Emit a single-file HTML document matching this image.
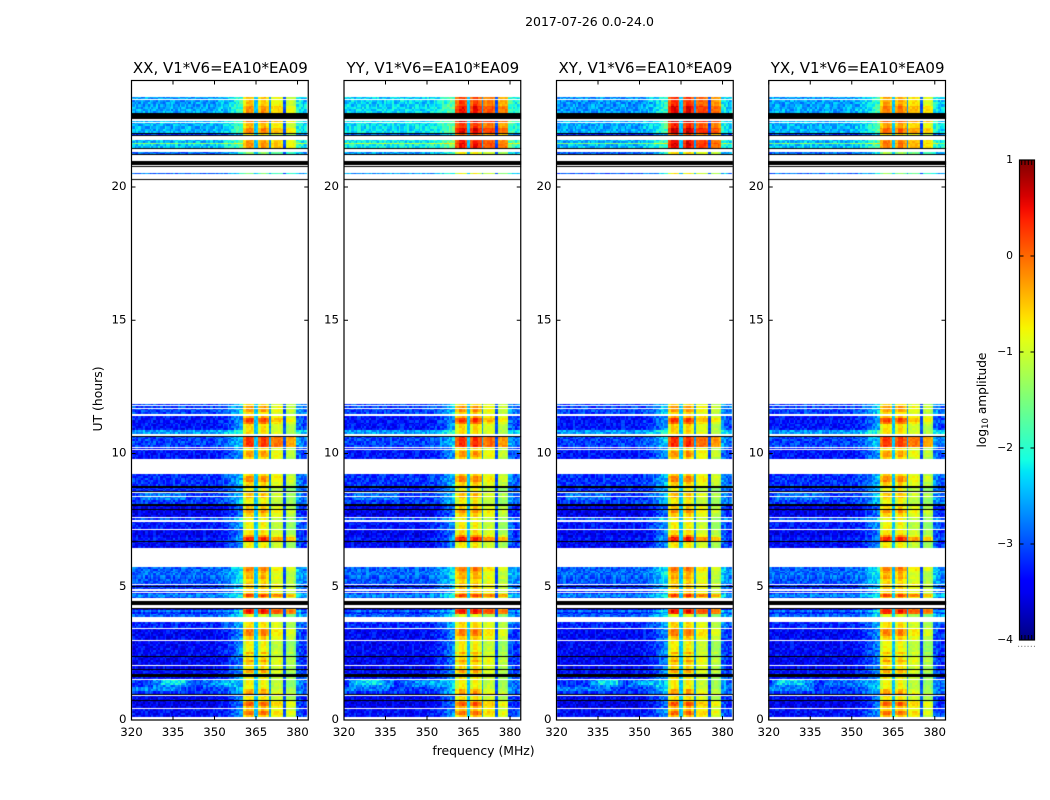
<!DOCTYPE html>
<html>
<head>
<meta charset="utf-8">
<title>2017-07-26 0.0-24.0</title>
<style>
html,body{margin:0;padding:0;background:#fff;}
#stage{position:relative;width:1050px;height:800px;overflow:hidden;background:#fff;}
canvas{position:absolute;display:block;}
svg{position:absolute;left:0;top:0;}
text{font-family:"DejaVu Sans","Liberation Sans",sans-serif;fill:#000;}
</style>
</head>
<body>
<div id="stage"></div>
<script>
// ---------- chart data ----------
const panelTitles = ["XX, V1*V6=EA10*EA09","YY, V1*V6=EA10*EA09","XY, V1*V6=EA10*EA09","YX, V1*V6=EA10*EA09"];
const freqTicks = [320,335,350,365,380];
const hourTicks = [0,5,10,15,20];
const colorTicks = [1,0,-1,-2,-3,-4];
const colorTickLabels = ["1","0","\u22121","\u22122","\u22123","\u22124"];

// Observed data bands: start hour, end hour, continuum log10 amplitude, signal offset
const bands = [
[0.13,0.45,-3.35,0.25],[0.45,0.72,-3.5,0.3],[0.72,0.96,-3.45,0.05],[0.96,1.0,-3.2,0.2],
[1.0,1.5,-3.1,-0.05],[1.5,1.62,-3.3,0],[1.62,1.95,-3.35,-0.05],[1.95,2.4,-3.45,0.1],
[2.4,3.0,-3.4,-0.05],[3.0,3.45,-3.4,0.2],[3.45,3.72,-3.2,0.1],[3.72,3.85,-3.2,0.1],
[3.85,3.98,-2.9,-0.2],[3.98,4.07,-3.2,1.1],[4.07,4.14,-2.8,1.2],[4.14,4.17,-3.6,1.0],
[4.59,4.63,-3.0,0.3],[4.63,4.74,-2.7,0.9],[4.74,4.98,-3.1,0.2],[4.98,5.08,-3.2,0.2],
[5.08,5.15,-3.0,0.3],[5.15,5.35,-2.95,0.1],[5.35,5.6,-2.85,0],[5.6,5.73,-2.9,0.2],
[6.44,6.69,-3.4,0],[6.69,6.86,-3.3,0.6],[6.86,7.16,-3.45,0.05],[7.16,7.42,-3.3,-0.05],
[7.52,7.62,-3.0,-0.1],[7.62,8.04,-3.5,0.15],[8.12,8.51,-3.1,-0.05],[8.54,8.71,-3.2,-0.1],
[8.79,9.23,-3.15,0.15],[9.8,10.22,-3.3,0.1],[10.23,10.63,-3.05,1.0],[10.73,10.88,-2.6,0.1],
[10.88,11.2,-3.3,0.1],[11.2,11.42,-3.3,0.35],[11.5,11.86,-3.05,0.1],
[20.47,20.51,-2.7,-0.9],[21.24,21.32,-2.7,-0.8],[21.42,21.47,-3.0,-0.3],[21.47,21.6,-2.25,0.35],
[21.6,21.66,-1.3,0.4],[21.66,21.76,-2.3,0.3],[21.93,22.04,-3.0,-0.1],[22.04,22.2,-2.35,0.45],
[22.2,22.4,-2.35,0.15],[22.4,22.53,-2.3,0.5],[22.78,23.05,-2.4,0.35],[23.05,23.38,-2.45,0.1]
];
// Thin no-data (white) lines: start hour, end hour
const whiteLines = [
[23.26,23.30],[22.47,22.50],[22.40,22.44],[11.77,11.81],[11.68,11.72],[10.20,10.24],[10.12,10.16],
[8.37,8.41],[7.58,7.62],[7.12,7.16],[5.06,5.10],[4.83,4.92],[4.76,4.79],[4.20,4.33],[3.68,3.71],
[3.73,3.85],[3.44,3.47],[2.99,3.02],[2.03,2.07],[1.50,1.53],[0.90,0.94],[0.40,0.44]
];
// Very low amplitude (black) lines: start hour, end hour
const blackLines = [
[22.55,22.78],[22.01,22.04],[21.93,21.96],[21.42,21.47],[21.20,21.23],[20.83,20.98],[20.77,20.80],[20.27,20.31],
[10.63,10.67],[8.71,8.79],[8.54,8.58],[8.04,8.12],[7.90,7.93],[6.69,6.72],[4.99,5.02],
[4.33,4.45],[4.17,4.20],[2.37,2.40],[1.90,1.93],[1.60,1.73],[0.95,0.98],[0.72,0.75]
];
// Strong band segments: start MHz, end MHz, then levels across the segment
const signalBlocks = [
[360.4,364.6,-0.9,-0.55,-0.55,-0.8],
[364.6,365.65,-2.4],
[365.65,369.6,-0.85,-0.52,-0.52,-0.8],
[369.6,370.4,-2.6],
[370.4,374.8,-1.0,-0.88,-0.88,-1.0],
[374.8,375.8,-3.0],
[375.8,379.7,-1.2,-1.1,-1.15,-1.3]
];
// Continuum lift per one-MHz channel near the strong band
const continuumLift = [
0,0,0,0,0,0,0,0,0,0,0,0,0,0,0,0,
0,0,0,0,0,0,0,0,0,0,0,0,0,0,0.03,0.05,
0.1,0.15,0.2,0.3,0.4,0.5,0.6,0.7,0.8,0,0,0,0,0,0,0,
0,0,0,0,0,0,0,0,0,0,0,0.45,0.45,0.3,0.2,0.3
];
// Extra continuum patches: panel, start hour, end hour, start MHz, end MHz, lift
const patches = [
[0,1.2,1.5,328,342,0.4],[0,1.25,1.45,331,340,0.5],[0,1.02,1.2,320,338,0.4],[0,1.2,1.5,346,358,0.3],[0,1.26,1.44,349,355,0.25],
[1,1.2,1.5,322,338,0.4],[1,1.25,1.45,324,334,0.45],[1,1.02,1.2,320,336,0.35],[1,1.2,1.5,342,358,0.3],[1,1.26,1.44,346,355,0.2],
[2,1.2,1.5,332,344,0.4],[2,1.25,1.45,335,342,0.5],[2,1.02,1.2,320,340,0.35],[2,1.2,1.5,346,358,0.3],[2,1.26,1.44,349,355,0.25],
[3,1.2,1.5,321,336,0.4],[3,1.25,1.45,323,333,0.4],[3,1.02,1.2,320,336,0.4],[3,1.2,1.5,340,358,0.25],
[0,8.2,8.5,323,340,0.35],[1,8.2,8.5,323,340,0.3],[2,8.2,8.5,323,340,0.3],[3,8.2,8.5,323,340,0.3]
];
// Rows where the strong band is brighter: start hour, end hour, lift
const signalStripes = [
[0.19,0.38,0.45],[0.49,0.68,0.5],[0.94,1.13,0.4],[1.76,1.91,0.45],[2.14,2.21,0.35],[2.44,2.55,0.4],
[3.15,3.45,0.4],[5.33,5.48,0.3],[5.52,5.74,0.4],[6.72,6.94,0.5],[7.80,7.95,0.35],[8.37,8.55,0.3],
[8.93,9.16,0.4],[9.87,10.09,0.35],[11.11,11.37,0.6],[11.56,11.78,0.35]
];
const panelTopBg = [-0.15,0.1,-0.2,-0.15];
const panelTopSig = [0,0.7,0.8,0.15];
const panelLowSig = [-0.15,-0.1,-0.1,-0.15];
// Speckle read as 0-9 texture around each cell level
const speckle = [
"38152907461328596041723","61940275183649027518396","27583164092758130946285",
"94016382751049362817504","15728490326175849203671","70463918250364917582043",
"42895137068241573906182","86130574926803145792360","39274061582917406382519",
"51608239741562038497126","08347521963074251869340","73915682403198627450158",
"26480197356824091735682"
];

// ---------- axes ----------
const panelLefts = [131.5,344,556.5,768.75];
const axisTop = 80.5, axisBottom = 720, axisWidth = 176.75;
function xScale(mhz, left){ return left + (mhz - 320) * 2.767; }
function yScale(hour){ return axisBottom - hour * 26.65; }
function colorY(level){ return 160 + (1 - level) * 96; }

function jet(level){
  const t = Math.max(0, Math.min(1, (level + 4) / 5));
  const ramp = (pts) => {
    for (let i = 1; i < pts.length; i++) {
      if (t <= pts[i][0]) {
        const a = pts[i-1], b = pts[i];
        return a[1] + (b[1]-a[1]) * (t-a[0]) / (b[0]-a[0]);
      }
    }
    return pts[pts.length-1][1];
  };
  const r = ramp([[0,0],[0.35,0],[0.66,1],[0.89,1],[1,0.5]]);
  const g = ramp([[0,0],[0.125,0],[0.375,1],[0.64,1],[0.91,0],[1,0]]);
  const b = ramp([[0,0.5],[0.11,1],[0.34,1],[0.65,0],[1,0]]);
  return "rgb(" + Math.round(r*255) + "," + Math.round(g*255) + "," + Math.round(b*255) + ")";
}
function signalAt(mhz){
  for (let i = 0; i < signalBlocks.length; i++) {
    const s = signalBlocks[i];
    if (mhz >= s[0] && mhz < s[1]) {
      const n = s.length - 2;
      const idx = Math.min(n - 1, Math.floor((mhz - s[0]) / (s[1] - s[0]) * n));
      return { level: s[2 + idx], index: i };
    }
  }
  return null;
}

const stage = document.getElementById("stage");
const NS = "http://www.w3.org/2000/svg";
const rowHours = 0.075;
const cellMHz = 0.6;

panelLefts.forEach(function(left, p){
  const cv = document.createElement("canvas");
  
  
  const cx0 = Math.floor(left), cy0 = Math.floor(axisTop);
  cv.width = 180; cv.height = 642;
  cv.style.left = cx0 + "px";
  cv.style.top = cy0 + "px";
  stage.appendChild(cv);
  const g = cv.getContext("2d");

  bands.forEach(function(b){
    for (let t = b[0]; t < b[1] - 0.001; t += rowHours) {
      const t1 = Math.min(b[1], t + rowHours);
      const yTop = Math.round(yScale(t1)) - cy0;
      const yBot = Math.round(yScale(t)) - cy0;
      const h = Math.max(1, yBot - yTop);
      const rowIdx = Math.round(t / rowHours) + p * 5;
      const row = speckle[rowIdx % speckle.length];
      const rowShift = Math.floor(rowIdx / speckle.length) * 7 + p * 7;
      const isTop = t > 15;
      let stripe = 0;
      signalStripes.forEach(function(s){ if (t + 0.03 >= s[0] && t + 0.03 < s[1]) stripe = s[2]; });
      const nCells = Math.floor(64 / cellMHz);
      for (let k = 0; k < nCells; k++) {
        const mhz = 320 + k * cellMHz;
        const mid = mhz + cellMHz / 2;
        const c = Math.min(63, Math.floor(mid - 320));
        const noise = (Number(row[Math.floor(k / 1.3 + rowShift) % row.length]) - 4.5) / 4.5 * 0.32;
        const sig = signalAt(mid);
        let v;
        if (sig) {
          const isDip = sig.index % 2 === 1;
          const lift = isDip ? 0 : (sig.index < 3 ? stripe : stripe * 0.4);
          v = sig.level + (isDip ? 0 : b[3]) + lift + (isDip ? 0 : (isTop ? panelTopSig[p] : panelLowSig[p])) + noise * 0.4;
        } else {
          v = b[2] + continuumLift[c] + (isTop ? panelTopBg[p] : 0) + noise;
          patches.forEach(function(q){
            if (q[0] === p && t >= q[1] && t < q[2] && mid >= q[3] && mid < q[4]) v += q[5];
          });
        }
        g.fillStyle = jet(v);
        const x0 = Math.round(xScale(mhz, left)) - cx0;
        const x1 = Math.round(xScale(mhz + cellMHz, left)) - cx0;
        g.fillRect(x0, yTop, x1 - x0, h);
      }
    }
  });
  function drawLines(list, color){
    g.fillStyle = color;
    list.forEach(function(l){
      const yTop = Math.round(yScale(l[1])) - cy0;
      const yBot = Math.round(yScale(l[0])) - cy0;
      g.fillRect(0, yTop, 180, Math.max(1, yBot - yTop));
    });
  }
  drawLines(whiteLines, "#fff");
  drawLines(blackLines, "#000");
  // clear anything outside the axes box
  g.clearRect(Math.round(axisWidth + left - cx0), 0, 20, 642);
});

const svg = document.createElementNS(NS, "svg");
svg.setAttribute("width", "1050");
svg.setAttribute("height", "800");
svg.setAttribute("viewBox", "0 0 1050 800");


stage.appendChild(svg);

function addText(str, x, y, size, anchor){
  const el = document.createElementNS(NS, "text");
  el.textContent = str;
  el.setAttribute("x", x);
  el.setAttribute("y", y);
  el.setAttribute("font-size", size);
  el.setAttribute("text-anchor", anchor || "middle");
  svg.appendChild(el);
  return el;
}
function addLine(x1, y1, x2, y2, width){
  const el = document.createElementNS(NS, "line");
  el.setAttribute("x1", x1); el.setAttribute("y1", y1);
  el.setAttribute("x2", x2); el.setAttribute("y2", y2);
  el.setAttribute("stroke", "#000");
  el.setAttribute("stroke-width", width || 1);
  svg.appendChild(el);
  return el;
}

let el;
el = addText("2017-07-26 0.0-24.0", 589.5, 26, 12.5);



panelLefts.forEach(function(left, p){
  const right = left + axisWidth;
  el = document.createElementNS(NS, "rect");
  el.setAttribute("x", left); el.setAttribute("y", axisTop);
  el.setAttribute("width", axisWidth); el.setAttribute("height", axisBottom - axisTop);
  el.setAttribute("fill", "none"); el.setAttribute("stroke", "#000"); el.setAttribute("stroke-width", "1.2");
  
  
  svg.appendChild(el);

  el = addText(panelTitles[p], left + axisWidth / 2 + 0.5, 73, 15);
  
  

  freqTicks.forEach(function(f){
    const x = xScale(f, left);
    el = addLine(x, axisBottom, x, axisBottom - 4);
    
    
    el = addLine(x, axisTop, x, axisTop + 4);
    
    
    el = addText(String(f), x, 736, 11.8);
    
    
  });
  hourTicks.forEach(function(h){
    const y = yScale(h);
    el = addLine(left, y, left + 4, y);
    
    
    el = addLine(right, y, right - 4, y);
    
    
    el = addText(String(h), left - 5, y + 3, 11.8, "end");
    
    
  });
});

el = addText("frequency (MHz)", 483.5, 755, 12.4);



el = addText("UT (hours)", 102, 399, 12.4);
el.setAttribute("transform", "rotate(-90 102 399)");



// ---------- colour bar ----------
const defs = document.createElementNS(NS, "defs");
const grad = document.createElementNS(NS, "linearGradient");
grad.setAttribute("id", "jetGradient");
grad.setAttribute("x1", "0"); grad.setAttribute("y1", "0");
grad.setAttribute("x2", "0"); grad.setAttribute("y2", "1");
for (let i = 0; i <= 40; i++) {
  const stop = document.createElementNS(NS, "stop");
  stop.setAttribute("offset", i / 40);
  stop.setAttribute("stop-color", jet(1 - 5 * i / 40));
  grad.appendChild(stop);
}
defs.appendChild(grad);
svg.appendChild(defs);

const barLeft = 1019.5, barRight = 1034.5;
el = document.createElementNS(NS, "rect");
el.setAttribute("x", barLeft); el.setAttribute("y", colorY(1));
el.setAttribute("width", barRight - barLeft); el.setAttribute("height", colorY(-4) - colorY(1));
el.setAttribute("fill", "url(#jetGradient)");
el.setAttribute("stroke", "#000"); el.setAttribute("stroke-width", "1.2");


svg.appendChild(el);

colorTicks.forEach(function(v, i){
  const y = colorY(v);
  el = addLine(barLeft, y, barLeft + 4, y);
  
  
  el = addLine(barRight, y, barRight - 4, y);
  
  
  el = addText(colorTickLabels[i], 1013, y + 3, 10.8, "end");
  
  
});
[1021.7,1025,1028.3,1031.7].forEach(function(x){
  el = addLine(x, colorY(1), x, colorY(1) + 5);
  
  
  el = addLine(x, colorY(-4), x, colorY(-4) - 5);
  
  
});

el = addText("......", 1017, 647, 10, "start");
el.setAttribute("style", "fill:#888");



el = addText("", 986, 400, 12.2);
el.setAttribute("transform", "rotate(-90 986 400)");


const t1 = document.createElementNS(NS, "tspan"); t1.textContent = "log";
const t2 = document.createElementNS(NS, "tspan"); t2.textContent = "10";
t2.setAttribute("font-size", "8.5"); t2.setAttribute("dy", "2");
const t3 = document.createElementNS(NS, "tspan"); t3.textContent = " amplitude";
t3.setAttribute("dy", "-2");
el.appendChild(t1); el.appendChild(t2); el.appendChild(t3);
</script>
</body>
</html>
